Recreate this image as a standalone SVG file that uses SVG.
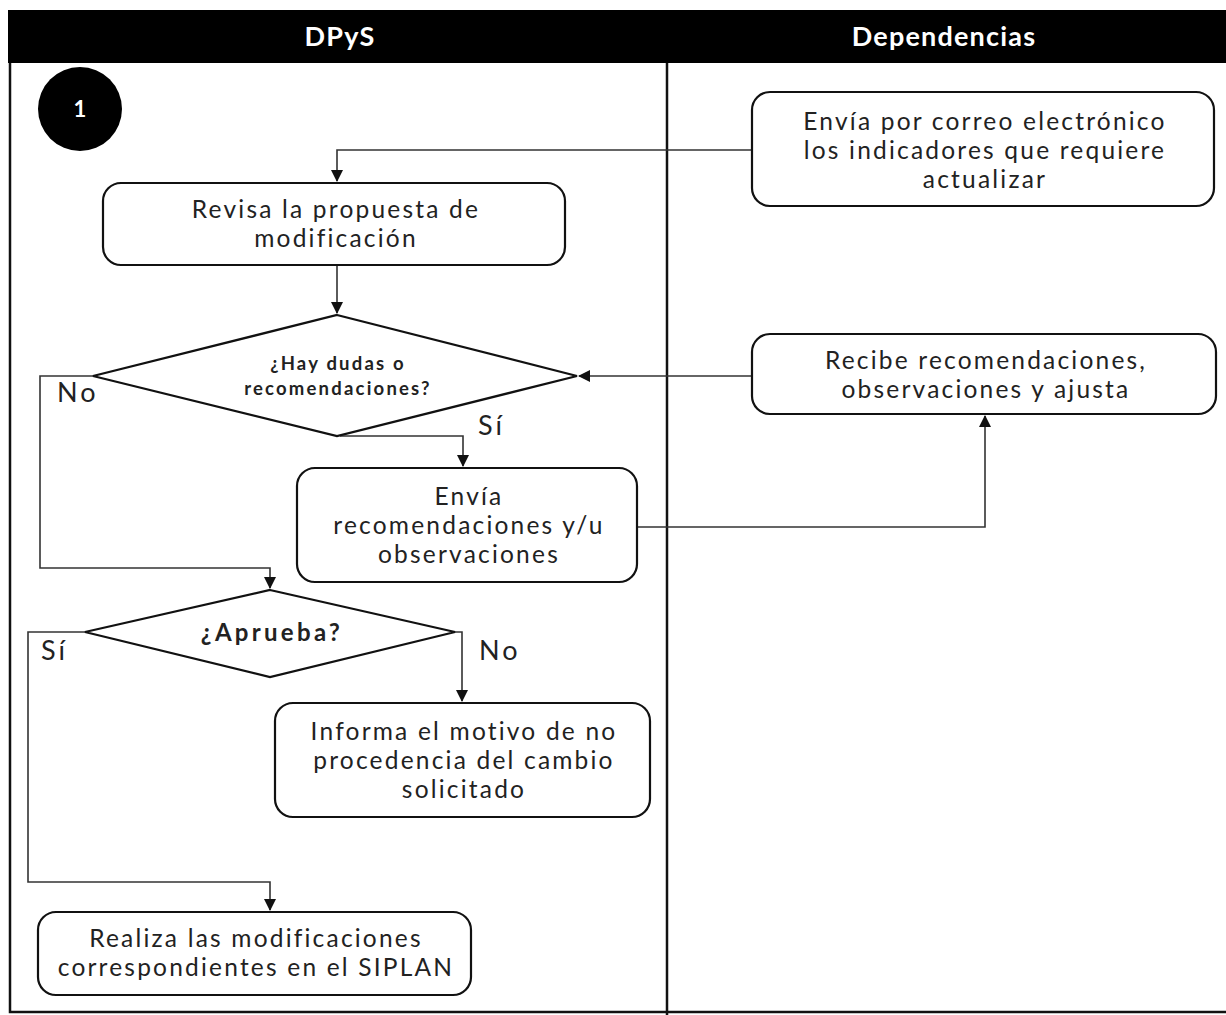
<svg xmlns="http://www.w3.org/2000/svg" width="1226" height="1015" viewBox="0 0 1226 1015">
<style>
.box{fill:#fff;stroke:#111;stroke-width:2.2}
.lane{fill:none;stroke:#111;stroke-width:2.5}
.con{fill:none;stroke:#333;stroke-width:1.6}
.t{font-family:Lato,"Open Sans","Liberation Sans",sans-serif;font-size:24.5px;letter-spacing:2.2px;fill:#222;text-anchor:middle}
.b{font-family:Lato,"Open Sans","Liberation Sans",sans-serif;font-weight:bold;fill:#222;text-anchor:middle}
.h{font-family:Lato,"Open Sans","Liberation Sans",sans-serif;font-weight:bold;font-size:27px;letter-spacing:1.2px;fill:#fff;text-anchor:middle}
.lbl{font-family:Lato,"Open Sans","Liberation Sans",sans-serif;font-size:27px;letter-spacing:3px;fill:#222}
</style>
<defs>
<marker id="arr" markerWidth="12" markerHeight="12" refX="11" refY="6" orient="auto" markerUnits="userSpaceOnUse"><path d="M0,0 L12,6 L0,12 z" fill="#111"/></marker>
</defs>
<rect width="1226" height="1015" fill="#fff"/>
<g id="lanes">
<rect x="8" y="10" width="1218" height="53" fill="#000"/>
<text class="h" x="340" y="46">DPyS</text>
<text class="h" x="944" y="46">Dependencias</text>
<path class="lane" d="M10,63 V1012 H1226"/>
<path class="lane" d="M667,63 V1015"/>
</g>
<g id="start">
<circle cx="80" cy="109" r="42" fill="#000"/>
<text x="80" y="117" font-family="Lato, sans-serif" font-size="22" font-weight="bold" fill="#fff" text-anchor="middle">1</text>
</g>
<g id="connectors">
<path class="con" d="M752,150 H337 V181" marker-end="url(#arr)"/>
<path class="con" d="M337,265 V313" marker-end="url(#arr)"/>
<path class="con" d="M752,376 H579" marker-end="url(#arr)"/>
<path class="con" d="M340,436 H463 V466" marker-end="url(#arr)"/>
<path class="con" d="M637,527 H985 V416" marker-end="url(#arr)"/>
<path class="con" d="M93,376 H40 V568 H270 V588" marker-end="url(#arr)"/>
<path class="con" d="M455,632 H462 V701" marker-end="url(#arr)"/>
<path class="con" d="M85,632 H28 V882 H270 V910" marker-end="url(#arr)"/>
<text class="lbl" x="57" y="402">No</text>
<text class="lbl" x="478" y="435">Sí</text>
<text class="lbl" x="41" y="660">Sí</text>
<text class="lbl" x="479" y="660">No</text>
</g>
<g id="n1">
<rect class="box" x="752" y="92" width="462" height="114" rx="18"/>
<text class="t" x="985" y="130">Envía por correo electrónico</text>
<text class="t" x="985" y="159">los indicadores que requiere</text>
<text class="t" x="985" y="188">actualizar</text>
</g>
<g id="n2">
<rect class="box" x="103" y="183" width="462" height="82" rx="18"/>
<text class="t" x="336" y="218">Revisa la propuesta de</text>
<text class="t" x="336" y="247">modificación</text>
</g>
<g id="d1">
<polygon class="box" points="337,315 577,376 337,436 93,376"/>
<text class="b" font-size="18.5" letter-spacing="2.2" x="338" y="370">¿Hay dudas o</text>
<text class="b" font-size="18.5" letter-spacing="2.2" x="338" y="395">recomendaciones?</text>
</g>
<g id="n3">
<rect class="box" x="752" y="334" width="464" height="80" rx="18"/>
<text class="t" x="986" y="369">Recibe recomendaciones,</text>
<text class="t" x="986" y="398">observaciones y ajusta</text>
</g>
<g id="n4">
<rect class="box" x="297" y="468" width="340" height="114" rx="18"/>
<text class="t" x="469" y="505">Envía</text>
<text class="t" x="469" y="534">recomendaciones y/u</text>
<text class="t" x="469" y="563">observaciones</text>
</g>
<g id="d2">
<polygon class="box" points="270,590 455,632 270,677 85,632"/>
<text class="b" font-size="24" letter-spacing="3.3" x="272" y="641">¿Aprueba?</text>
</g>
<g id="n5">
<rect class="box" x="275" y="703" width="375" height="114" rx="18"/>
<text class="t" x="464" y="740">Informa el motivo de no</text>
<text class="t" x="464" y="769">procedencia del cambio</text>
<text class="t" x="464" y="798">solicitado</text>
</g>
<g id="n6">
<rect class="box" x="38" y="912" width="433" height="83" rx="18"/>
<text class="t" x="256" y="947">Realiza las modificaciones</text>
<text class="t" x="256" y="976">correspondientes en el SIPLAN</text>
</g>
</svg>
